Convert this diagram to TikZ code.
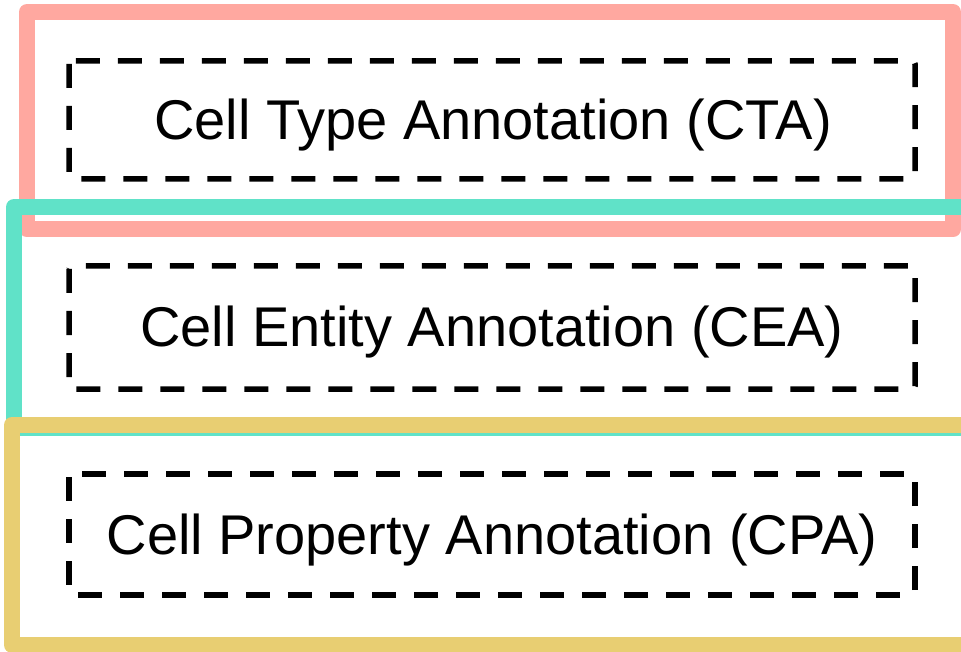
\documentclass[tikz,border=0pt]{standalone}
\usepackage{fontspec}
\setmainfont{Liberation Sans}
\definecolor{ctared}{HTML}{FFA8A0}
\definecolor{ceateal}{HTML}{60E2C8}
\definecolor{cpagold}{HTML}{E8CE72}
\begin{document}
\begin{tikzpicture}[x=1pt,y=-1pt,
  outerbox/.style={line width=16pt, line join=round},
  dashbox/.style={draw=black, line width=5.5pt, dash pattern=on 24pt off 18pt, rounded corners=3pt},
  lbl/.style={font=\fontsize{56}{67}\selectfont, text=black}]
\useasboundingbox (0,0) rectangle (961,652);
\clip (0,0) rectangle (961,652);
\draw[outerbox, draw=ctared] (27,12) rectangle (953,229.5);
\draw[outerbox, draw=ceateal] (14,207) rectangle (990,428);
\draw[outerbox, draw=cpagold] (12,425) rectangle (990,645);
\draw[dashbox] (69,61) rectangle (915,179);
\draw[dashbox] (69,266) rectangle (915,389);
\draw[dashbox] (69,474) rectangle (915,595);
\node[lbl] (cta) at (493,125) {Cell Type Annotation (CTA)};
\node[lbl] (cea) at (492,332) {Cell Entity Annotation (CEA)};
\node[lbl] (cpa) at (492,540) {Cell Property Annotation (CPA)};
\end{tikzpicture}
\end{document}
